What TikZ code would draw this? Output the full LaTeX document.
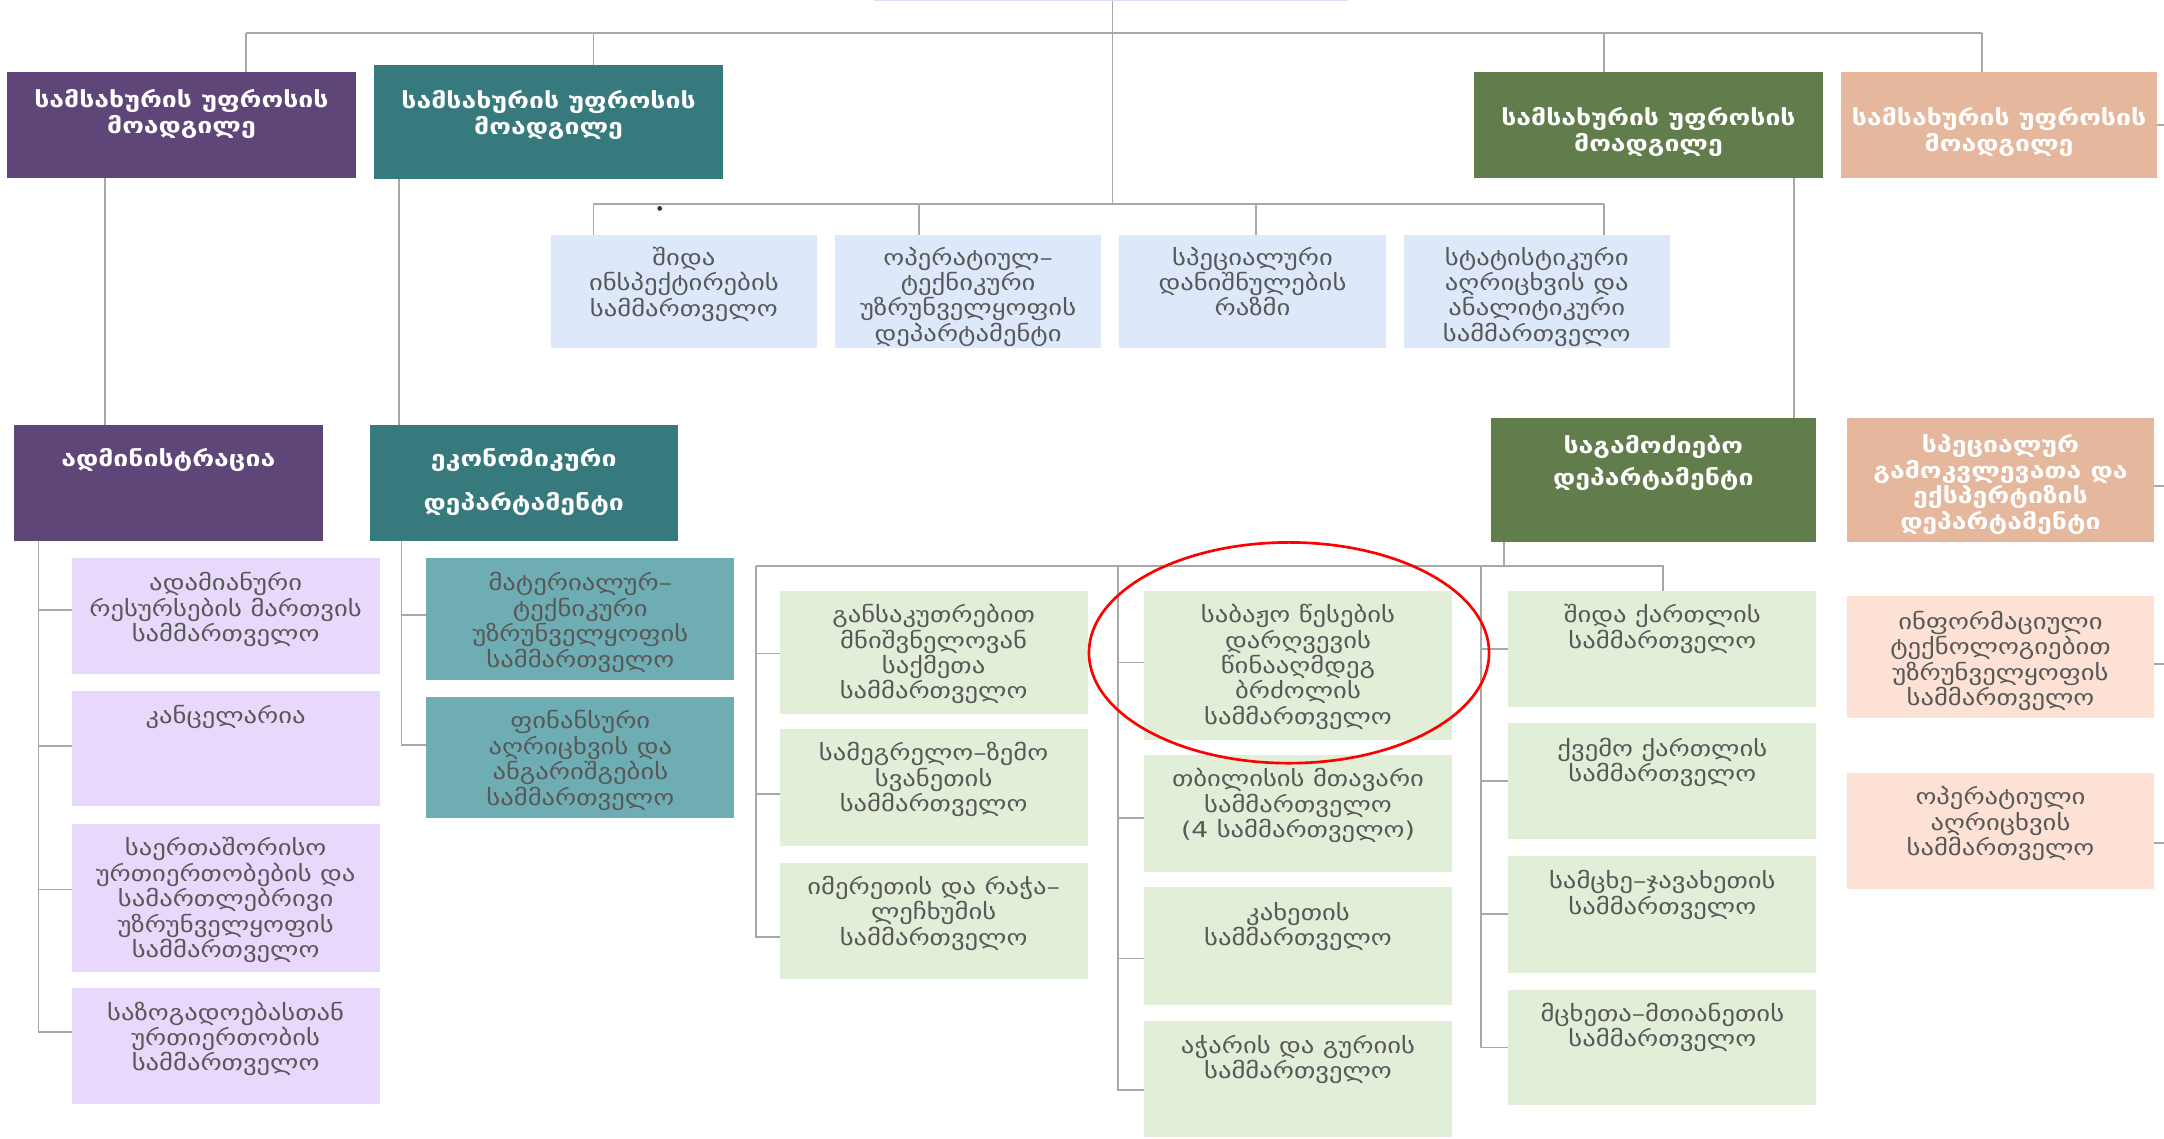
\documentclass[tikz,border=0pt]{standalone}
\usepackage{fontspec}
\setmainfont{DejaVu Sans}[FakeStretch=1.22]
\usetikzlibrary{positioning}

\definecolor{purpD}{HTML}{5F4679}
\definecolor{tealD}{HTML}{367A7E}
\definecolor{greenD}{HTML}{617D4B}
\definecolor{peachD}{HTML}{E5B79C}
\definecolor{lavL}{HTML}{E8D8FC}
\definecolor{tealL}{HTML}{6EADB4}
\definecolor{blueL}{HTML}{DDE9FB}
\definecolor{greenL}{HTML}{E1EED8}
\definecolor{peachL}{HTML}{FCE1D4}
\definecolor{topL}{HTML}{DCDEF2}
\definecolor{lineG}{HTML}{A8A8A8}
\definecolor{txtG}{HTML}{585858}

\newcommand{\orgfont}{\fontsize{9}{10.5}\selectfont
  \setlength{\lineskiplimit}{-20pt}\setlength{\lineskip}{0pt}}

\tikzset{
  box/.style n args={4}{at={({(#1+#3)/2},{(#2+#4)/2})},
    minimum width={(#3-#1)*0.02cm}, minimum height={(#4-#2)*0.02cm},
    inner sep=0pt, outer sep=0pt},
  txt/.style={align=center, inner sep=0pt, text=txtG, font=\orgfont},
  hdr/.style={txt, text=white, font=\bfseries\orgfont},
  conn/.style={draw=lineG, line width=0.7pt},
}

\begin{document}
\begin{tikzpicture}[x=0.02cm, y=-0.02cm]
\useasboundingbox (0,0) rectangle (1568,825);
\clip (0,0) rectangle (1568,825);

% top level
\node[fill=topL, box={633}{-30}{977}{1}] (top) {};
\node[fill=purpD, box={5}{52}{258}{129}] (d1) {};
\node[hdr, below=0.25cm of d1.north] (d1-t) {სამსახურის უფროსის\\მოადგილე};
\node[fill=tealD, box={271}{47}{524}{130}] (d2) {};
\node[hdr, below=0.37cm of d2.north] (d2-t) {სამსახურის უფროსის\\მოადგილე};
\node[fill=greenD, box={1068}{52}{1321}{129}] (d3) {};
\node[hdr, below=0.51cm of d3.north] (d3-t) {სამსახურის უფროსის\\მოადგილე};
\node[fill=peachD, box={1334}{52}{1563}{129}] (d4) {};
\node[hdr, below=0.51cm of d4.north] (d4-t) {სამსახურის უფროსის\\მოადგილე};

% blue row
\node[fill=blueL, box={399}{170}{592}{252}] (b1) {};
\node[txt, below=0.17cm of b1.north] (b1-t) {შიდა\\ინსპექტირების\\სამმართველო};
\node[fill=blueL, box={605}{170}{798}{252}] (b2) {};
\node[txt, below=0.17cm of b2.north] (b2-t) {ოპერატიულ–\\ტექნიკური\\უზრუნველყოფის\\დეპარტამენტი};
\node[fill=blueL, box={811}{170}{1004}{252}] (b3) {};
\node[txt, below=0.17cm of b3.north] (b3-t) {სპეციალური\\დანიშნულების\\რაზმი};
\node[fill=blueL, box={1017}{170}{1210}{252}] (b4) {};
\node[txt, below=0.17cm of b4.north] (b4-t) {სტატისტიკური\\აღრიცხვის და\\ანალიტიკური\\სამმართველო};

% departments
\node[fill=purpD, box={10}{308}{234}{392}] (adm) {};
\node[hdr, below=0.33cm of adm.north] (adm-t) {ადმინისტრაცია};
\node[fill=tealD, box={268}{308}{491}{392}] (eco) {};
\node[hdr, below=0.33cm of eco.north] (eco-t) {ეკონომიკური\\[0.27cm]დეპარტამენტი};
\node[fill=greenD, box={1080}{303}{1316}{393}] (inv) {};
\node[hdr, below=0.25cm of inv.north] (inv-t) {საგამოძიებო\\[0.09cm]დეპარტამენტი};
\node[fill=peachD, box={1338}{303}{1561}{393}] (spec) {};
\node[hdr, below=0.23cm of spec.north] (spec-t) {სპეციალურ\\გამოკვლევათა და\\ექსპერტიზის\\დეპარტამენტი};

% administration
\node[fill=lavL, box={52}{404}{275}{488}] (hr) {};
\node[txt, below=0.21cm of hr.north] (hr-t) {ადამიანური\\რესურსების მართვის\\სამმართველო};
\node[fill=lavL, box={52}{501}{275}{584}] (kanc) {};
\node[txt, below=0.19cm of kanc.north] (kanc-t) {კანცელარია};
\node[fill=lavL, box={52}{597}{275}{704}] (intl) {};
\node[txt, below=0.19cm of intl.north] (intl-t) {საერთაშორისო\\ურთიერთობების და\\სამართლებრივი\\უზრუნველყოფის\\სამმართველო};
\node[fill=lavL, box={52}{716}{275}{800}] (pub) {};
\node[txt, below=0.19cm of pub.north] (pub-t) {საზოგადოებასთან\\ურთიერთობის\\სამმართველო};

% economic
\node[fill=tealL, box={309}{404}{532}{493}] (mat) {};
\node[txt, below=0.21cm of mat.north] (mat-t) {მატერიალურ–\\ტექნიკური\\უზრუნველყოფის\\სამმართველო};
\node[fill=tealL, box={309}{505}{532}{593}] (fin) {};
\node[txt, below=0.19cm of fin.north] (fin-t) {ფინანსური\\აღრიცხვის და\\ანგარიშგების\\სამმართველო};

% investigative
\node[fill=greenL, box={565}{428}{788}{517}] (g11) {};
\node[txt, below=0.19cm of g11.north] (g11-t) {განსაკუთრებით\\მნიშვნელოვან\\საქმეთა\\სამმართველო};
\node[fill=greenL, box={565}{528}{788}{613}] (g12) {};
\node[txt, below=0.19cm of g12.north] (g12-t) {სამეგრელო–ზემო\\სვანეთის\\სამმართველო};
\node[fill=greenL, box={565}{625}{788}{709}] (g13) {};
\node[txt, below=0.19cm of g13.north] (g13-t) {იმერეთის და რაჭა–\\ლეჩხუმის\\სამმართველო};
\node[fill=greenL, box={829}{428}{1052}{536}] (g21) {};
\node[txt, below=0.19cm of g21.north] (g21-t) {საბაჟო წესების\\დარღვევის\\წინააღმდეგ\\ბრძოლის\\სამმართველო};
\node[fill=greenL, box={829}{547}{1052}{632}] (g22) {};
\node[txt, below=0.19cm of g22.north] (g22-t) {თბილისის მთავარი\\სამმართველო\\(4 სამმართველო)};
\node[fill=greenL, box={829}{643}{1052}{728}] (g23) {};
\node[txt, below=0.21cm of g23.north] (g23-t) {კახეთის\\სამმართველო};
\node[fill=greenL, box={829}{740}{1052}{824}] (g24) {};
\node[txt, below=0.19cm of g24.north] (g24-t) {აჭარის და გურიის\\სამმართველო};
\node[fill=greenL, box={1093}{428}{1316}{512}] (g31) {};
\node[txt, below=0.19cm of g31.north] (g31-t) {შიდა ქართლის\\სამმართველო};
\node[fill=greenL, box={1093}{524}{1316}{608}] (g32) {};
\node[txt, below=0.21cm of g32.north] (g32-t) {ქვემო ქართლის\\სამმართველო};
\node[fill=greenL, box={1093}{620}{1316}{705}] (g33) {};
\node[txt, below=0.21cm of g33.north] (g33-t) {სამცხე–ჯავახეთის\\სამმართველო};
\node[fill=greenL, box={1093}{717}{1316}{801}] (g34) {};
\node[txt, below=0.19cm of g34.north] (g34-t) {მცხეთა–მთიანეთის\\სამმართველო};

% special research
\node[fill=peachL, box={1338}{432}{1561}{520}] (p1) {};
\node[txt, below=0.21cm of p1.north] (p1-t) {ინფორმაციული\\ტექნოლოგიებით\\უზრუნველყოფის\\სამმართველო};
\node[fill=peachL, box={1338}{560}{1561}{644}] (p2) {};
\node[txt, below=0.19cm of p2.north] (p2-t) {ოპერატიული\\აღრიცხვის\\სამმართველო};

% connectors
\coordinate (hub) at (806,24);
\coordinate (t1) at (178,24);
\coordinate (t2) at (430,24);
\coordinate (t3) at (1162,24);
\coordinate (t4) at (1436,24);
\coordinate (k1) at (430,148);
\coordinate (k2) at (666,148);
\coordinate (k3) at (910,148);
\coordinate (k4) at (1162,148);
\draw[conn] (t1) -- (t4);
\draw[conn] (hub |- top.south) -- (hub |- k1);
\foreach \t/\d in {t1/d1,t2/d2,t3/d3,t4/d4}
  \draw[conn] (\t) -- (\t |- \d.north);
\draw[conn] (k1) -- (k4);
\foreach \k/\b in {k1/b1,k2/b2,k3/b3,k4/b4}
  \draw[conn] (\k) -- (\k |- \b.north);

\path (d1.south) ++(-55.5,0) coordinate (v1);
\path (d2.south) ++(-108.5,0) coordinate (v2);
\path (d3.south) ++(105.5,0) coordinate (v3);
\draw[conn] (v1) -- (v1 |- adm.north);
\draw[conn] (v2) -- (v2 |- eco.north);
\draw[conn] (v3) -- (v3 |- inv.north);

\path (adm.south) ++(-94,0) coordinate (s1);
\foreach \c/\dy in {hr/-4,kanc/-2,intl/-6,pub/-10}
  \draw[conn] (s1) |- ([yshift=-\dy*0.02cm]\c.west);
\path (eco.south) ++(-88.5,0) coordinate (s2);
\foreach \c/\dy in {mat/-3,fin/-9}
  \draw[conn] (s2) |- ([yshift=-\dy*0.02cm]\c.west);

\path (inv.south) ++(-108,0) coordinate (h0);
\path (h0) ++(0,17) coordinate (h1);
\coordinate (c1) at (548,410);
\coordinate (c2) at (810,410);
\coordinate (c3) at (1073,410);
\coordinate (c4) at (1205,410);
\draw[conn] (h0) -- (h1);
\draw[conn] (c1) -- (c4) -- (c4 |- g31.north);
\foreach \c/\dy in {g11/1,g12/5,g13/12}
  \draw[conn] (c1) |- ([yshift=-\dy*0.02cm]g11.west |- \c.west);
\foreach \c/\dy in {g21/-2,g22/3,g23/9,g24/8}
  \draw[conn] (c2) |- ([yshift=-\dy*0.02cm]\c.west);
\foreach \c in {g31,g32,g33,g34}
  \draw[conn] (c3) |- (\c.west);

% stubs to the right edge
\foreach \n/\dy in {d4/0,spec/4,p1/5,p2/9}
  \draw[conn] ([yshift=-\dy*0.02cm]\n.east) -- ++(8,0);

\fill[black!80] (478,151) circle (1pt);
\draw[red, line width=1.1pt] (934,473) ellipse [x radius=2.9cm, y radius=1.6cm];
\end{tikzpicture}
\end{document}
